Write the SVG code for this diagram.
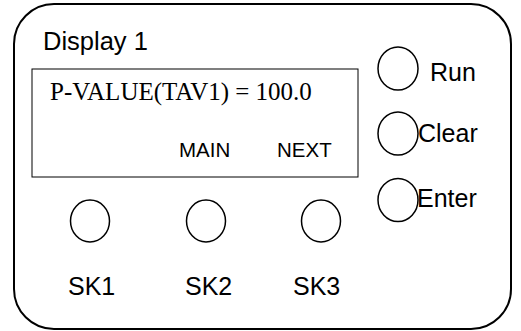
<svg xmlns="http://www.w3.org/2000/svg" width="521" height="331" viewBox="0 0 521 331">
<style>
.ln{fill:none;stroke:#000;stroke-width:1.5}
.ob{fill:none;stroke:#000;stroke-width:2}
.th{fill:none;stroke:#000;stroke-width:1}
.s{font-family:"Liberation Sans",Arial,sans-serif;fill:#000}
.t{font-family:"Liberation Serif","Times New Roman",serif;fill:#000}
</style>
<rect width="521" height="331" fill="#fff"/>
<g id="panel">
<rect class="ob" x="14" y="4" width="497" height="325" rx="40" ry="40"/>
<text class="s" x="43" y="50" font-size="25.5">Display 1</text>
</g>
<g id="display">
<rect class="th" x="32" y="69" width="326" height="108"/>
<text class="t" x="50" y="100" font-size="25">P-VALUE(TAV1) = 100.0</text>
<text class="s" x="179" y="157" font-size="20.5">MAIN</text>
<text class="s" x="277" y="157" font-size="20.5">NEXT</text>
</g>
<g id="run">
<ellipse class="ln" cx="398" cy="68.5" rx="20" ry="21.5"/>
<text class="s" x="430" y="81" font-size="25">Run</text>
</g>
<g id="clear">
<ellipse class="ln" cx="398" cy="133.5" rx="20" ry="21.5"/>
<text class="s" x="418" y="142" font-size="25">Clear</text>
</g>
<g id="enter">
<ellipse class="ln" cx="398" cy="200" rx="20" ry="21.5"/>
<text class="s" x="417" y="207" font-size="25">Enter</text>
</g>
<g id="sk1">
<ellipse class="ln" cx="90" cy="221" rx="19.5" ry="21"/>
<text class="s" x="68" y="295" font-size="25">SK1</text>
</g>
<g id="sk2">
<ellipse class="ln" cx="206" cy="221" rx="19.5" ry="21"/>
<text class="s" x="185" y="295" font-size="25">SK2</text>
</g>
<g id="sk3">
<ellipse class="ln" cx="321" cy="221" rx="19.5" ry="21"/>
<text class="s" x="293" y="295" font-size="25">SK3</text>
</g>
<g id="connectors"/>
</svg>
